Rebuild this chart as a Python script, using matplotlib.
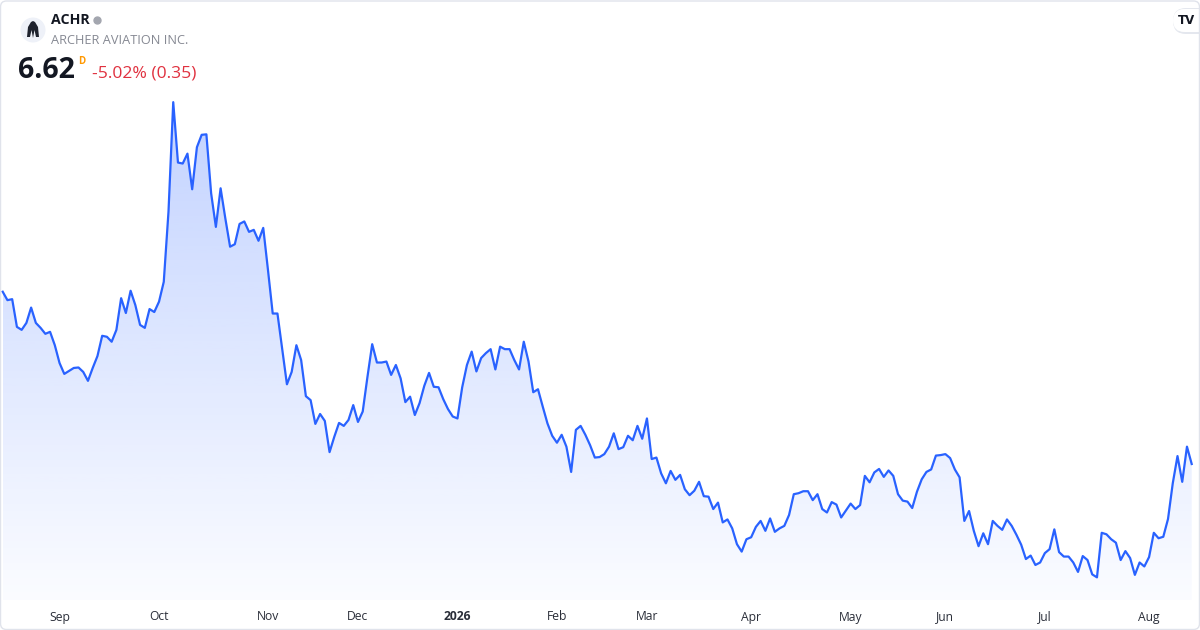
import numpy as np
import matplotlib
matplotlib.use("Agg")
import matplotlib.pyplot as plt
from matplotlib.patches import FancyBboxPatch, Polygon, Circle
from matplotlib.lines import Line2D
from matplotlib.transforms import blended_transform_factory

# ---------------- data ----------------
ticker = "ACHR"
company = "ARCHER AVIATION INC."
last_price = "6.62"
interval = "D"
change_text = "-5.02% (0.35)"

prices = [
    10.10, 9.93, 9.95, 9.39, 9.33, 9.47, 9.78, 9.47, 9.37, 9.25,
    9.29, 9.02, 8.66, 8.44, 8.50, 8.56, 8.57, 8.48, 8.30, 8.56,
    8.80, 9.21, 9.19, 9.09, 9.33, 9.97, 9.67, 10.12, 9.83, 9.43,
    9.37, 9.75, 9.69, 9.90, 10.30,
    11.72, 13.93, 12.71, 12.69, 12.89, 12.17, 13.02, 13.27, 13.28, 12.09,
    11.41, 12.19, 11.58, 11.01, 11.06, 11.47, 11.52, 11.31, 11.35, 11.13,
    11.39, 10.54, 9.66, 9.66, 8.94, 8.23, 8.48, 9.02, 8.72, 7.99,
    7.91, 7.43, 7.63, 7.49, 6.86, 7.17, 7.45, 7.39, 7.51, 7.81,
    7.47, 7.68, 8.38, 9.04, 8.67, 8.67, 8.69, 8.42, 8.62, 8.35,
    7.87, 7.98, 7.61, 7.85, 8.20, 8.46, 8.18, 8.17, 7.93, 7.73,
    7.58, 7.54, 8.17, 8.62, 8.89, 8.49, 8.76, 8.86, 8.94, 8.53,
    8.99, 8.94, 8.94, 8.72, 8.53, 9.09, 8.69, 8.07, 8.13, 7.78,
    7.44, 7.19, 7.05, 7.21, 6.97, 6.46, 7.31, 7.39, 7.21, 7.00,
    6.75, 6.76, 6.82, 6.97, 7.24, 6.92, 6.96, 7.19, 7.10, 7.39,
    7.13, 7.54, 6.72, 6.75, 6.43, 6.23, 6.48, 6.30, 6.40, 6.11,
    5.99, 6.08, 6.26, 5.97, 5.96, 5.71, 5.84, 5.44, 5.50, 5.32,
    5.00, 4.85, 5.10, 5.14, 5.35, 5.47, 5.27, 5.52, 5.25, 5.32,
    5.37, 5.59, 6.01, 6.03, 6.07, 6.07, 5.89, 6.01, 5.71, 5.64,
    5.85, 5.80, 5.54, 5.68, 5.82, 5.71, 5.79, 6.38, 6.25, 6.45,
    6.52, 6.36, 6.49, 6.38, 6.01, 5.88, 5.86, 5.73, 6.06, 6.31,
    6.46, 6.51, 6.79, 6.80, 6.82, 6.74, 6.51, 6.35, 5.47, 5.67,
    5.27, 4.96, 5.22, 5.00, 5.47, 5.37, 5.29, 5.50, 5.37, 5.19,
    4.99, 4.70, 4.77, 4.58, 4.63, 4.82, 4.90, 5.30, 4.84, 4.75,
    4.75, 4.63, 4.44, 4.76, 4.68, 4.39, 4.33, 5.23, 5.20, 5.10,
    5.03, 4.68, 4.86, 4.72, 4.38, 4.63, 4.55, 4.74, 5.23, 5.12,
    5.15, 5.51, 6.23, 6.78, 6.26, 6.97, 6.62,
]

month_labels = ["Sep", "Oct", "Nov", "Dec", "2026", "Feb", "Mar", "Apr",
                "May", "Jun", "Jul", "Aug"]
month_idx = [12, 33, 56, 75, 96, 117, 136, 158, 179, 199, 220, 242]

# ---------------- styling ----------------
W, H = 1200, 630
LINE = "#2962ff"
FONT = ["Open Sans", "DejaVu Sans"]
plt.rcParams["font.family"] = FONT

fig = plt.figure(figsize=(W / 100, H / 100), dpi=100)
fig.patch.set_facecolor("white")

ax = fig.add_axes([0, 30 / H, 1, 510 / H])
ax.set_facecolor("none")
ax.axis("off")
ax.set_xlim(-0.57, 252.75)
ybot, ytop = 3.8725, 14.1756
ax.set_ylim(ybot, ytop)

x = np.arange(len(prices))
y = np.array(prices)

# gradient area fill clipped to polygon under the line
verts = [(x[0], ybot)] + list(zip(x, y)) + [(x[-1], ybot)]
poly = Polygon(verts, closed=True, facecolor="none", edgecolor="none")
ax.add_patch(poly)
n = 256
alpha = np.linspace(0.29, 0.02, n)
rgba = np.zeros((n, 1, 4))
rgba[..., 0] = 41 / 255
rgba[..., 1] = 98 / 255
rgba[..., 2] = 1.0
rgba[..., 3] = alpha[:, None]
im = ax.imshow(rgba, extent=[x[0], x[-1], ybot, ytop], aspect="auto",
               origin="upper", zorder=1, interpolation="bilinear")
im.set_clip_path(poly)

ax.plot(x, y, color=LINE, lw=1.6, zorder=3, solid_joinstyle="round")

# x tick labels
trans = blended_transform_factory(ax.transData, fig.transFigure)
for lab, idx in zip(month_labels, month_idx):
    ax.text(idx, 1 - 617 / H, lab, transform=trans, ha="center", va="center",
            fontsize=8.7, color="#2a2e39",
            fontweight="bold" if lab == "2026" else "normal")

# ---------------- header ----------------
def fx(px):
    return px / W

def fy(py):
    return 1 - py / H

# logo circle
fig.add_artist(Circle((33, H - 30), 12.5, transform=None,
                      facecolor="#eef1f8", edgecolor="none"))
logo = [(27, H - 37), (28, H - 27), (31, H - 22), (33, H - 21), (35, H - 22),
        (38, H - 27), (39, H - 37), (36, H - 37), (34.5, H - 30), (33, H - 38),
        (31.5, H - 30), (30, H - 37)]
fig.add_artist(Polygon(logo, closed=True, transform=None,
                       facecolor="#1e222d", edgecolor="none"))

fig.text(fx(51), fy(20), ticker, ha="left", va="center", fontsize=10.2,
         fontweight="bold", color="#131722")
fig.add_artist(Line2D([fx(97)], [fy(20)], marker="o", markersize=5,
                      color="#a3a6af", transform=fig.transFigure))
fig.text(fx(51), fy(40), company, ha="left", va="center", fontsize=9.2,
         color="#868993")
fig.text(fx(18), fy(71), last_price, ha="left", va="center", fontsize=20.5,
         fontweight="bold", color="#131722")
fig.text(fx(78), fy(61), interval, ha="left", va="center", fontsize=7,
         fontweight="bold", color="#ff9800")
fig.text(fx(92), fy(74), change_text, ha="left", va="center", fontsize=12.6,
         color="#e0313f")

# TradingView badge
fig.add_artist(FancyBboxPatch((1173, H - 34), 40, 26, transform=None,
                              boxstyle="round,pad=0,rounding_size=13",
                              facecolor="#e4e7ee", edgecolor="none", zorder=5))
fig.add_artist(FancyBboxPatch((1173, H - 32), 40, 23, transform=None,
                              boxstyle="round,pad=0,rounding_size=11.5",
                              facecolor="white", edgecolor="none", zorder=6))
fig.text(fx(1186), fy(20), "TV", ha="center", va="center", fontsize=8.5,
         fontweight="heavy", color="#131722", zorder=7,
         family=["DejaVu Sans"])

# outer border
fig.add_artist(FancyBboxPatch((0.5, 0.5), W - 1, H - 1.5, transform=None,
                              boxstyle="round,pad=0,rounding_size=6",
                              facecolor="none", edgecolor="#e0e3eb", lw=1,
                              zorder=10))

fig.savefig("out.png", dpi=100, facecolor="white")
